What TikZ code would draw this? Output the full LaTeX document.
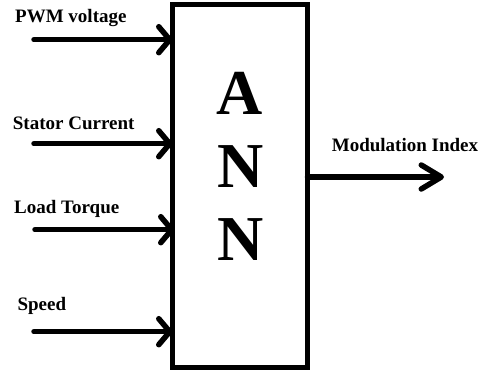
\documentclass[tikz,border=0pt]{standalone}
\usepackage{fontspec}
\setmainfont{Liberation Serif}
\usetikzlibrary{arrows.meta}
\begin{document}
\begin{tikzpicture}[x=1pt,y=-1pt,
  lbl/.style={anchor=base west,inner sep=0pt,font=\fontsize{19}{22}\selectfont\bfseries},
  big/.style={anchor=base,inner sep=0pt,font=\fontsize{64}{64}\selectfont\bfseries},
  inarrow/.style={line width=5.5pt,line cap=round,-{Straight Barb[length=11pt,width=26pt,round]}},
  outarrow/.style={line width=5.5pt,line cap=round,-{Straight Barb[length=20pt,width=24pt,round]}}]
\useasboundingbox (0,0) rectangle (482,373);
\node[draw,line width=5.5pt,inner sep=0pt,outer sep=0pt,minimum width=135pt,minimum height=363pt] (ann) at (240,186) {};
\node[big] (a1) at (239.5,114) {A};
\node[big] (n1) at (240.5,187) {N};
\node[big] (n2) at (240.5,260) {N};
\coordinate (s1) at (34,39.7);
\coordinate (s2) at (34,143.7);
\coordinate (s3) at (35,229.7);
\coordinate (s4) at (34,331.7);
\coordinate (o) at (444,177);
\draw[inarrow] (s1) -- (s1 -| ann.west);
\draw[inarrow] (s2) -- (s2 -| ann.west);
\draw[inarrow] (s3) -- ([xshift=2pt]s3 -| ann.west);
\draw[inarrow] (s4) -- (s4 -| ann.west);
\draw[outarrow] (o -| ann.east) -- (o);
\node[lbl] (l1) at (15,22.7) {PWM voltage};
\node[lbl] (l2) at (12.7,129.3) {Stator Current};
\node[lbl] (l3) at (14,213.3) {Load Torque};
\node[lbl] (l4) at (17.3,310.7) {Speed};
\node[lbl] (l5) at (331.7,151.7) {Modulation Index};
\end{tikzpicture}
\end{document}
